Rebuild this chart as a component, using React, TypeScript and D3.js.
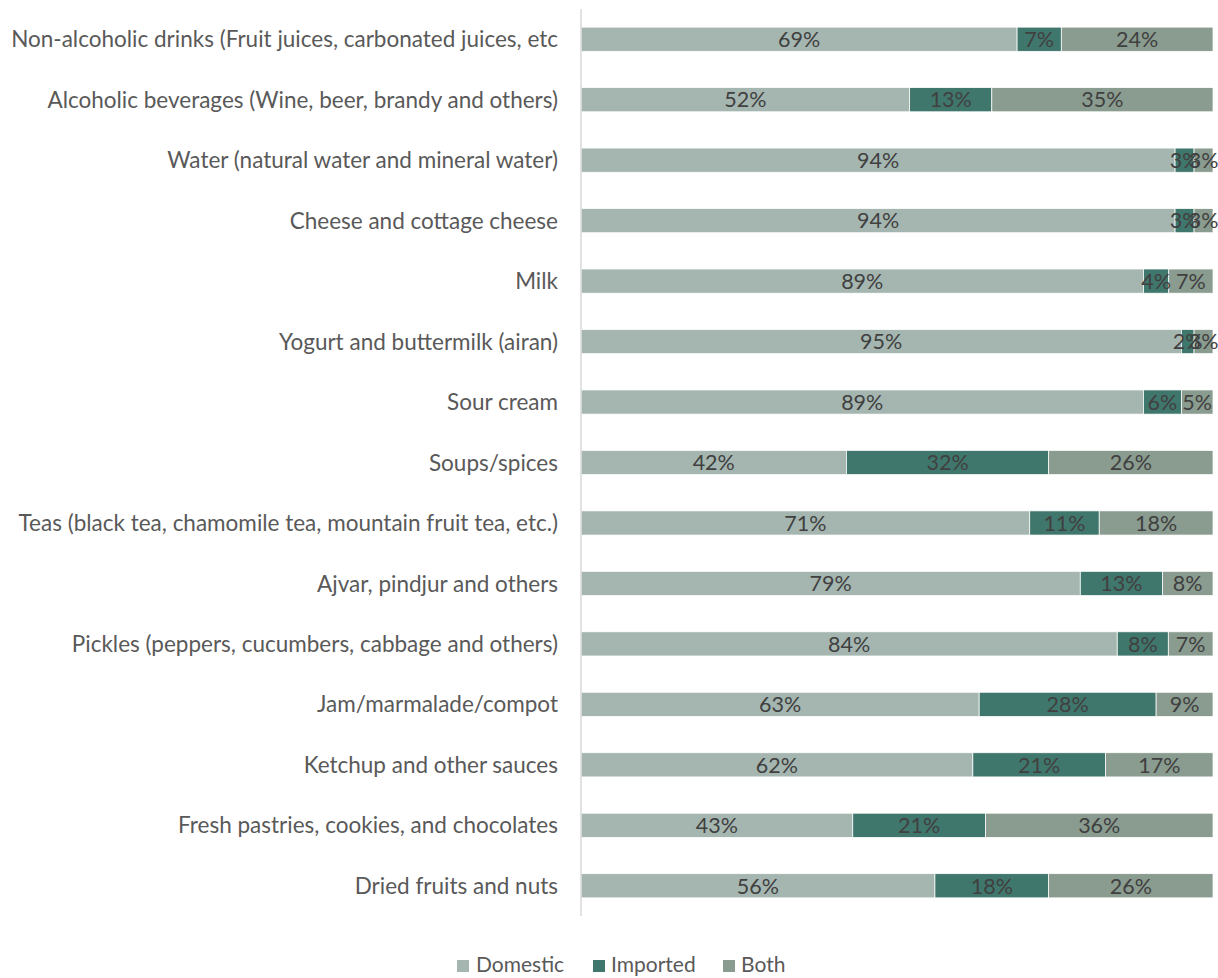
import React from "react";
import * as d3 from "d3";

const categories = [
  "Non-alcoholic drinks (Fruit juices, carbonated juices, etc",
  "Alcoholic beverages (Wine, beer, brandy and others)",
  "Water (natural water and mineral water)",
  "Cheese and cottage cheese",
  "Milk",
  "Yogurt and buttermilk (airan)",
  "Sour cream",
  "Soups/spices",
  "Teas (black tea, chamomile tea, mountain fruit tea, etc.)",
  "Ajvar, pindjur and others",
  "Pickles (peppers, cucumbers, cabbage and others)",
  "Jam/marmalade/compot",
  "Ketchup and other sauces",
  "Fresh pastries, cookies, and chocolates",
  "Dried fruits and nuts",
];
const domestic = [69, 52, 94, 94, 89, 95, 89, 42, 71, 79, 84, 63, 62, 43, 56];
const imported = [7, 13, 3, 3, 4, 2, 6, 32, 11, 13, 8, 28, 21, 21, 18];
const both = [24, 35, 3, 3, 7, 3, 5, 26, 18, 8, 7, 9, 17, 36, 26];
const seriesNames = ["Domestic", "Imported", "Both"];
const colors = ["#A5B6B1", "#40776D", "#8A9B8F"];

const FONT = "Lato, 'Open Sans', sans-serif";

export default function App() {
  const width = 1218;
  const height = 978;
  const x0 = 581;
  const x1 = 1213;
  const y0 = 9;
  const y1 = 916;

  const y = d3.scaleBand<string>().domain(categories).range([y0, y1]).paddingInner(0.6).paddingOuter(0.3);
  const x = d3.scaleLinear().domain([0, 1]).range([x0, x1]);

  const rows = categories.map((c, i) => {
    const vals = [domestic[i], imported[i], both[i]];
    const total = d3.sum(vals);
    let acc = 0;
    return vals.map((v, k) => {
      const start = acc / total;
      acc += v;
      return { c, k, v, start, end: acc / total };
    });
  });

  const legendItems = [
    { name: seriesNames[0], sx: 457, tx: 476 },
    { name: seriesNames[1], sx: 593, tx: 611 },
    { name: seriesNames[2], sx: 723, tx: 741 },
  ];

  return (
    <svg width={width} height={height} style={{ position: "absolute", left: 0, top: 0, background: "#fff" }}>
      {rows.map((segs, i) =>
        segs.map((s) => (
          <g key={`${i}-${s.k}`}>
            <rect
              x={x(s.start)}
              y={y(s.c)!}
              width={x(s.end) - x(s.start)}
              height={y.bandwidth()}
              fill={colors[s.k]}
              stroke="#ffffff"
              strokeWidth={0.75}
            />
          </g>
        ))
      )}
      {rows.map((segs, i) =>
        segs.map((s) => (
          <text
            key={`t${i}-${s.k}`}
            x={(x(s.start) + x(s.end)) / 2}
            y={y(s.c)! + y.bandwidth() / 2}
            dy="0.36em"
            textAnchor="middle"
            fontFamily={FONT}
            fontSize={21.5}
            fill="#404040"
          >
            {s.v}%
          </text>
        ))
      )}
      <line x1={x0} x2={x0} y1={y0} y2={y1} stroke="#D9D9D9" strokeWidth={1.5} />
      {categories.map((c) => (
        <text
          key={c}
          x={x0 - 23}
          y={y(c)! + y.bandwidth() / 2}
          dy="0.36em"
          textAnchor="end"
          fontFamily={FONT}
          fontSize={22.5}
          fill="#595959"
        >
          {c}
        </text>
      ))}
      {legendItems.map((l, i) => (
        <g key={l.name}>
          <rect x={l.sx} y={960} width={12} height={12} fill={colors[i]} />
          <text x={l.tx} y={965} dy="0.34em" fontFamily={FONT} fontSize={21} fill="#595959">
            {l.name}
          </text>
        </g>
      ))}
    </svg>
  );
}
